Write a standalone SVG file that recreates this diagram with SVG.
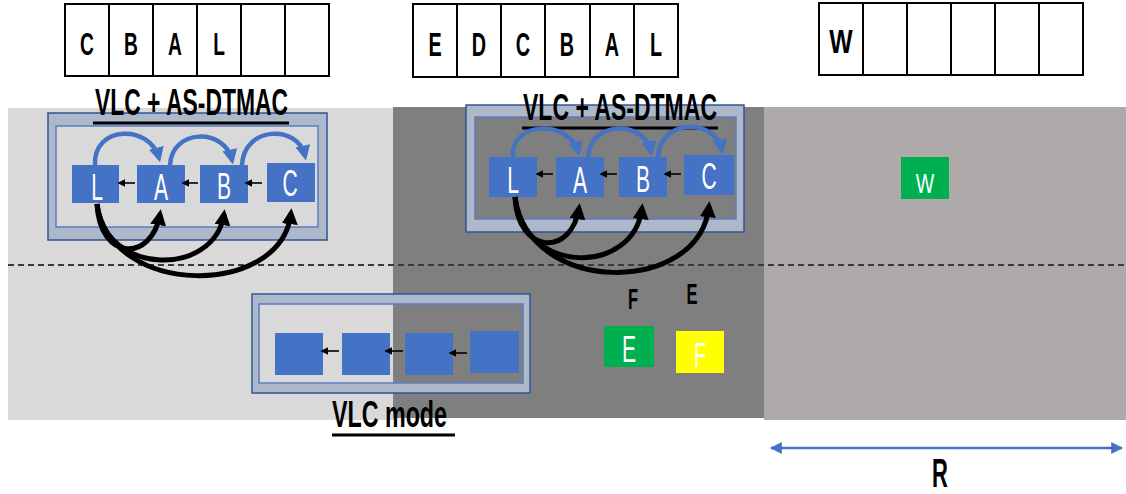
<svg xmlns="http://www.w3.org/2000/svg" width="1126" height="494" viewBox="0 0 1126 494">
<style>
.t{font-family:"Liberation Sans",Arial,sans-serif;fill:#000;text-anchor:middle}
.b{font-weight:bold}
.w{fill:#fff}
.cell{fill:#fff;stroke:#000;stroke-width:2}
.cl{stroke:#000;stroke-width:2}
.nd{fill:#4472c4}
.ring{fill:#adb9ca;fill-rule:evenodd;stroke:none}
.ro{fill:none;stroke:#2f5597;stroke-width:1.5}
.ri{fill:none;stroke:#5b7bbf;stroke-width:1.5}
.ul{stroke:#000;stroke-width:3}
.sa{stroke:#000;stroke-width:1.6;fill:none;marker-end:url(#ms)}
.ba{stroke:#4472c4;stroke-width:4.5;fill:none;marker-end:url(#mb)}
.ka{stroke:#000;stroke-width:5;fill:none;marker-end:url(#mk)}
</style>
<defs>
<marker id="ms" viewBox="0 0 10 10" refX="8" refY="5" markerUnits="userSpaceOnUse" markerWidth="8" markerHeight="8" orient="auto"><path d="M0,0 L10,5 L0,10 z" fill="#000"/></marker>
<marker id="mb" viewBox="0 0 10 10" refX="7" refY="5" markerUnits="userSpaceOnUse" markerWidth="15" markerHeight="15" orient="auto"><path d="M0,0 L10,5 L0,10 z" fill="#4472c4"/></marker>
<marker id="mk" viewBox="0 0 10 10" refX="7" refY="5" markerUnits="userSpaceOnUse" markerWidth="16" markerHeight="16" orient="auto"><path d="M0,0 L10,5 L0,10 z" fill="#000"/></marker>
<marker id="mr" viewBox="0 0 10 10" refX="9" refY="5" markerUnits="userSpaceOnUse" markerWidth="12" markerHeight="12" orient="auto-start-reverse"><path d="M0,0 L10,5 L0,10 z" fill="#4472c4"/></marker>
</defs>

<g id="background">
<rect x="8" y="108" width="386" height="312" fill="#d9d9d9"/>
<rect x="393" y="107" width="371" height="311" fill="#7f7f7f"/>
<rect x="764" y="107" width="362" height="313" fill="#aeaaaa"/>
<line x1="8" y1="265" x2="1126" y2="265" stroke="#3a3a3a" stroke-width="1.8" stroke-dasharray="6,4"/>
</g>

<g id="queue1">
<rect class="cell" x="65" y="4" width="264" height="72"/>
<path class="cl" d="M109,4V76M153,4V76M197,4V76M241,4V76M285,4V76"/>
<g class="t b" font-size="32">
<text transform="translate(87,55) scale(0.6,1)">C</text>
<text transform="translate(131,55) scale(0.6,1)">B</text>
<text transform="translate(175,55) scale(0.6,1)">A</text>
<text transform="translate(219,55) scale(0.6,1)">L</text>
</g>
</g>

<g id="queue2">
<rect class="cell" x="413" y="4" width="265" height="73"/>
<path class="cl" d="M457,4V77M501,4V77M545,4V77M590,4V77M634,4V77"/>
<g class="t b" font-size="33">
<text transform="translate(435,56) scale(0.6,1)">E</text>
<text transform="translate(479,56) scale(0.6,1)">D</text>
<text transform="translate(523,56) scale(0.6,1)">C</text>
<text transform="translate(567,56) scale(0.6,1)">B</text>
<text transform="translate(612,56) scale(0.6,1)">A</text>
<text transform="translate(656,56) scale(0.6,1)">L</text>
</g>
</g>

<g id="queue3">
<rect class="cell" x="819" y="3" width="264" height="72"/>
<path class="cl" d="M863,3V75M907,3V75M951,3V75M995,3V75M1039,3V75"/>
<text class="t b" font-size="33" transform="translate(841,53) scale(0.75,1)">W</text>
</g>

<g id="group-left">
<path class="ring" d="M48,113H327V240H48Z M56,126V227H318V126Z"/>
<rect class="ro" x="48" y="113" width="279" height="127"/>
<rect class="ri" x="56" y="126" width="262" height="101"/>
<text class="t b" font-size="37" x="191.5" y="115" textLength="193" lengthAdjust="spacingAndGlyphs">VLC + AS-DTMAC</text>
<line class="ul" x1="93" y1="123" x2="289" y2="123"/>
</g>
<g id="L1"><rect class="nd" x="72" y="165" width="47" height="38"/><text class="t w" font-size="37" transform="translate(97,200) scale(0.57,1)">L</text></g>
<g id="A1"><rect class="nd" x="137" y="165" width="48" height="38"/><text class="t w" font-size="37" transform="translate(161,200) scale(0.57,1)">A</text></g>
<g id="B1"><rect class="nd" x="200" y="165" width="48" height="38"/><text class="t w" font-size="37" transform="translate(224,199) scale(0.57,1)">B</text></g>
<g id="C1"><rect class="nd" x="267" y="163" width="48" height="39"/><text class="t w" font-size="37" transform="translate(290,196) scale(0.57,1)">C</text></g>

<g id="group-right">
<path class="ring" d="M466,105H744V232H466Z M475,117V219H736V117Z"/>
<rect class="ro" x="466" y="105" width="278" height="127"/>
<rect class="ri" x="475" y="117" width="261" height="102"/>
<text class="t b" font-size="37" x="620" y="120" textLength="194" lengthAdjust="spacingAndGlyphs">VLC + AS-DTMAC</text>
<line class="ul" x1="522" y1="128" x2="718" y2="128"/>
</g>
<g id="L2"><rect class="nd" x="489" y="157" width="48" height="40"/><text class="t w" font-size="37" transform="translate(513,193) scale(0.57,1)">L</text></g>
<g id="A2"><rect class="nd" x="556" y="157" width="48" height="40"/><text class="t w" font-size="37" transform="translate(580,193) scale(0.57,1)">A</text></g>
<g id="B2"><rect class="nd" x="619" y="157" width="48" height="40"/><text class="t w" font-size="37" transform="translate(643,192) scale(0.57,1)">B</text></g>
<g id="C2"><rect class="nd" x="684" y="155" width="50" height="40"/><text class="t w" font-size="37" transform="translate(709,189) scale(0.57,1)">C</text></g>

<g id="group-vlc-mode">
<path class="ring" d="M252,294H530V393H252Z M259,304V383H523V304Z"/>
<rect class="ro" x="252" y="294" width="278" height="99"/>
<rect class="ri" x="259" y="304" width="264" height="79"/>
<text class="t b" font-size="37" x="389.5" y="427" textLength="115" lengthAdjust="spacingAndGlyphs">VLC mode</text>
<line class="ul" x1="332" y1="435" x2="455" y2="435"/>
</g>
<g id="V1"><rect class="nd" x="275" y="333" width="48" height="42"/></g>
<g id="V2"><rect class="nd" x="342" y="333" width="48" height="42"/></g>
<g id="V3"><rect class="nd" x="405" y="333" width="48" height="42"/></g>
<g id="V4"><rect class="nd" x="470" y="331" width="49" height="42"/></g>

<g id="W"><rect x="901" y="157" width="48" height="42" fill="#00b050"/><text class="t w" font-size="28" transform="translate(925,193) scale(0.7,1)">W</text></g>
<g id="E"><rect x="604" y="326" width="50" height="41" fill="#00b050"/><text class="t w" font-size="37" transform="translate(629,362) scale(0.57,1)">E</text></g>
<g id="F"><rect x="676" y="331" width="48" height="42" fill="#ffff00"/><text class="t w" font-size="35" transform="translate(700,367) scale(0.57,1)">F</text></g>

<g id="labels">
<text class="t b" font-size="30" transform="translate(633,309) scale(0.55,1)">F</text>
<text class="t b" font-size="30" transform="translate(692,304) scale(0.55,1)">E</text>
<text class="t b" font-size="40" transform="translate(940,487) scale(0.55,1)">R</text>
</g>

<g id="connectors">
<line class="sa" x1="135" y1="183" x2="119" y2="183"/>
<line class="sa" x1="198" y1="183" x2="183" y2="183"/>
<line class="sa" x1="262" y1="183" x2="246" y2="183"/>
<line class="sa" x1="553" y1="174" x2="537" y2="174"/>
<line class="sa" x1="617" y1="174" x2="601" y2="174"/>
<line class="sa" x1="681" y1="174" x2="665" y2="174"/>
<line class="sa" x1="339" y1="351" x2="322" y2="351"/>
<line class="sa" x1="403" y1="351" x2="386" y2="351"/>
<line class="sa" x1="467" y1="353" x2="450" y2="353"/>

<path class="ba" d="M95,165 C93,125 150,124 159,158"/>
<path class="ba" d="M170,165 C172,128 225,128 232,160"/>
<path class="ba" d="M242,165 C244,126 298,124 305,156"/>
<path class="ba" d="M513,157 C510,120 570,120 578,152"/>
<path class="ba" d="M588,157 C590,120 645,120 651,152"/>
<path class="ba" d="M658,157 C660,118 715,118 722,150"/>

<path class="ka" d="M97,204 C100,262 152,262 160,214"/>
<path class="ka" d="M97,204 C105,277 215,277 224,214"/>
<path class="ka" d="M97,204 C110,298 282,298 291,213"/>
<path class="ka" d="M515,197 C518,256 572,256 579,208"/>
<path class="ka" d="M515,197 C523,276 634,276 642,208"/>
<path class="ka" d="M515,197 C528,296 700,296 709,206"/>

<line x1="771" y1="448" x2="1122" y2="448" stroke="#4472c4" stroke-width="2.5" marker-start="url(#mr)" marker-end="url(#mr)"/>
</g>
</svg>
